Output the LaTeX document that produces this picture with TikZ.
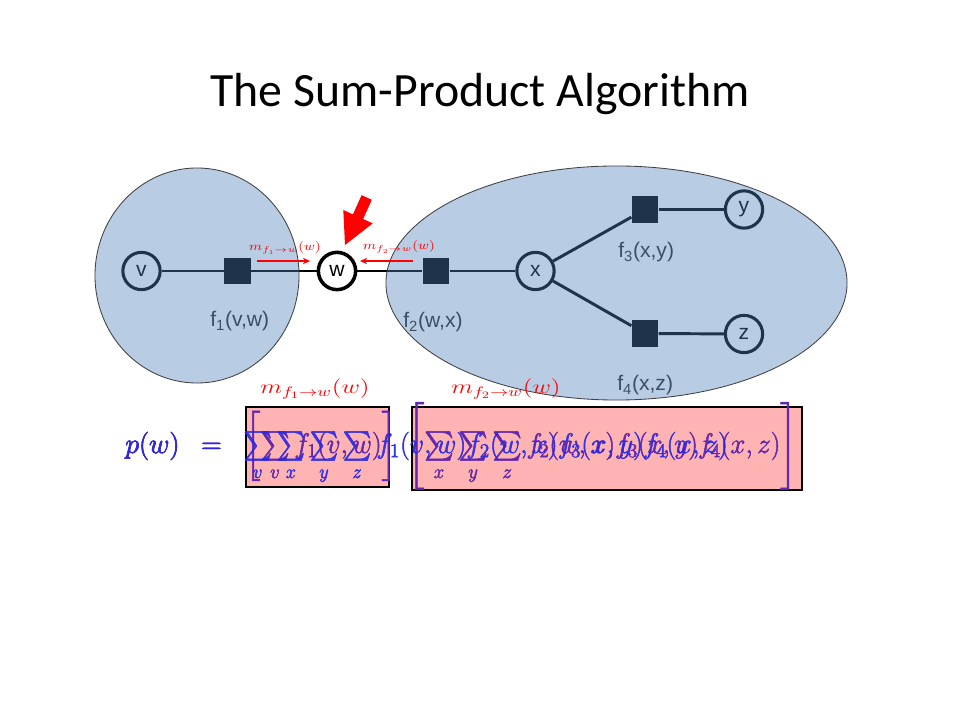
\RequirePackage{fix-cm}
\documentclass[tikz,border=0pt]{standalone}
\usepackage{amsmath}
\usepackage{fontspec}
\newfontfamily\arialf{Liberation Sans}
\newfontfamily\calibrif{Carlito}
\usepackage{graphicx}
\usetikzlibrary{arrows.meta}
\definecolor{ovblue}{RGB}{79,129,189}
\definecolor{eqblue}{RGB}{40,40,230}
\definecolor{eqpurple}{RGB}{100,40,170}
\definecolor{boxpink}{RGB}{255,179,179}
\definecolor{lbl}{RGB}{45,45,45}
\newcommand{\msgm}[2][1.29]{\scalebox{#1}[1]{$m_{f_{#2}\rightarrow w}(w)$}}
\newcommand{\heavyon}{\special{pdf:literal direct 2 Tr 0.35 w}}
\newcommand{\heavyoff}{\special{pdf:literal direct 0 Tr}}
\begin{document}
\begin{tikzpicture}[x=0.025cm,y=-0.025cm,
  varnode/.style={circle,draw=black,line width=2.2pt,minimum size=26.5pt,inner sep=0pt,font=\arialf\fontsize{15}{18}\selectfont},
  facnode/.style={rectangle,fill=black,minimum size=19pt,inner sep=0pt},
  edge/.style={line width=2.1pt,black},
  flabel/.style={anchor=base west,inner sep=0pt,font=\arialf\fontsize{15}{18}\selectfont,text=lbl},
  msgsmall/.style={anchor=base,inner sep=0pt,text=red,font=\fontsize{8.5}{10}\selectfont},
  msgbig/.style={anchor=base,inner sep=0pt,text=red,font=\fontsize{14}{17}\selectfont},
  grp/.style={fill=ovblue,fill opacity=0.4,draw=black!75,line width=0.6pt},
  pinkbox/.style={fill=boxpink,draw=black,line width=1.1pt},
  marrow/.style={red,line width=0.9pt,-{Stealth[length=5pt,width=4.5pt]}},
  eqstyle/.style={anchor=base west,inner sep=0pt,font=\fontsize{20}{24}\selectfont},
]
\useasboundingbox (0,0) rectangle (960,720);
\fill[white] (0,0) rectangle (960,720);

% title
\node[anchor=base,inner sep=0pt,font=\calibrif\fontsize{34}{40}\selectfont] (title) at (480,107) {The Sum-Product Algorithm};

% graph nodes
\node[varnode] (v) at (141.5,271) {v};
\node[facnode] (f1) at (237.5,271) {};
\node[varnode,fill=white,line width=2.5pt] (w) at (337,271) {w};
\node[facnode] (f2) at (436,271) {};
\node[varnode] (x) at (535.5,271) {x};
\node[facnode] (f3) at (645,209.5) {};
\node[varnode] (y) at (744,209.5) {y};
\node[facnode] (f4) at (645,333.5) {};
\node[varnode] (z) at (744,334) {z};

\draw[edge] (v) -- (f1);
\draw[edge] (f1) -- (w);
\draw[edge] (w) -- (f2);
\draw[edge] (f2) -- (x);
\draw[edge] (x) -- (f3);
\draw[edge] (f3) -- (y);
\draw[edge] (x) -- (f4);
\draw[edge] (f4) -- (z);

% factor labels
\node[flabel] (l1) at (210,327) {f\textsubscript{1}(v,w)};
\node[flabel] (l2) at (403,328) {f\textsubscript{2}(w,x)};
\node[flabel] (l3) at (618,258) {f\textsubscript{3}(x,y)};
\node[flabel] (l4) at (617,391) {f\textsubscript{4}(x,z)};

% groups (translucent overlays)
\draw[grp] (197,275.5) ellipse [x radius=2.55cm, y radius=2.6875cm];
\draw[grp] (616.5,283) ellipse [x radius=5.7625cm, y radius=2.925cm];

% messages near w
\coordinate (a1s) at (257,261);
\coordinate (a1e) at (310,261);
\coordinate (a2s) at (413,261);
\coordinate (a2e) at (360,261);
\draw[marrow] (a1s) -- (a1e);
\draw[marrow] (a2s) -- (a2e);
\node[msgsmall] (m1s) at (285,251) {\msgm[1.16]{1}};
\node[msgsmall] (m2s) at (399,250) {\msgm[1.16]{2}};

% big red arrow
\fill[red] (361.6,195.2) -- (352.9,214.4) -- (343.3,210.0) -- (345,245) -- (372.7,223.4) -- (363.1,219.0) -- (371.8,199.8) -- cycle;

% pink boxes
\draw[pinkbox] (246,407) rectangle (389,487);
\draw[pinkbox] (412,407) rectangle (802,490);

% message labels above boxes
\node[msgbig] (m1b) at (315,393.5) {\msgm{1}};
\node[msgbig] (m2b) at (506,393.5) {\msgm{2}};

% equations
\node[eqstyle,text=eqpurple] (eqp) at (125,453) {\heavyon$p(w)\hspace{0.5em}=\hspace{0.57em}\resizebox{392pt}{\height}{$\left[\sum\limits_v f_1(v,w)\right]\hspace{0.26em}\left[\sum\limits_x\sum\limits_y\sum\limits_z f_2(w,x)f_3(x,y)f_4(x,z)\right]$}$\heavyoff};
\node[eqstyle,text=eqblue,text opacity=0.9] (eqb) at (125,453) {\heavyon$p(w)\hspace{0.5em}=\hspace{0.5em}\resizebox{91pt}{\height}{$\sum\limits_v\sum\limits_x\sum\limits_y\sum\limits_z$}\hspace{3.5pt}\resizebox{250pt}{\height}{$f_1(v,w)f_2(w,x)f_3(x,y)f_4(x,z)$}$\heavyoff};
\end{tikzpicture}
\end{document}
